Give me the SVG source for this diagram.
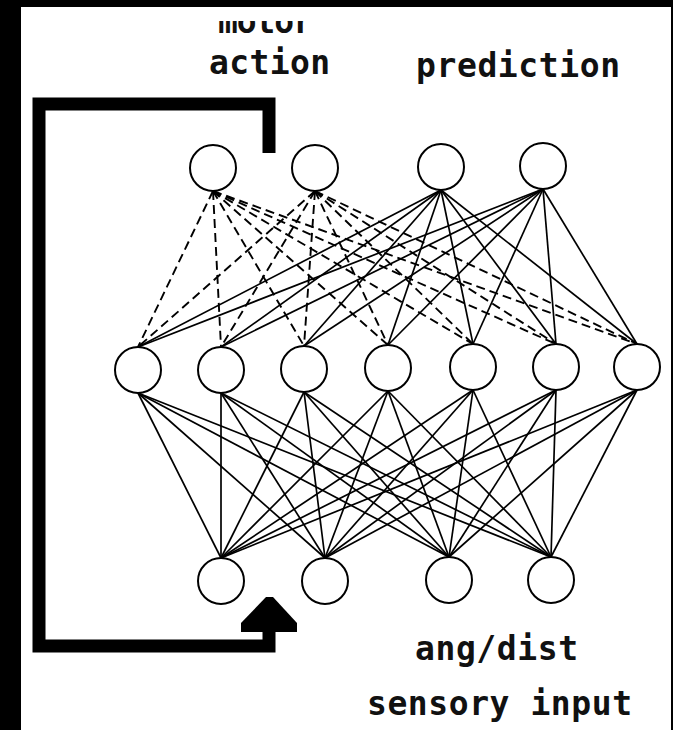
<svg xmlns="http://www.w3.org/2000/svg" width="673" height="730" viewBox="0 0 673 730">
  <defs>
    <style>
      .lbl { font-family: "DejaVu Sans Mono", "Liberation Mono", monospace; font-weight: bold; font-size: 33px; fill: #111; }
      .node { fill: #fff; stroke: #000; stroke-width: 2; }
      .solid { stroke: #000; stroke-width: 1.7; fill: none; }
      .dash { stroke: #000; stroke-width: 1.9; fill: none; stroke-dasharray: 9 5; }
      .loop { stroke: #000; stroke-width: 13; fill: none; stroke-linejoin: miter; stroke-linecap: butt; }
    </style>
    <clipPath id="motorClip">
      <rect x="150" y="21" width="250" height="30"/>
    </clipPath>
  </defs>

  <!-- frame -->
  <rect x="0" y="0" width="673" height="730" fill="#000"/>
  <rect x="21" y="7" width="650" height="723" fill="#fff"/>

  <!-- labels -->
  <g id="labels">
    <text class="lbl" x="218" y="33" textLength="95" lengthAdjust="spacing" clip-path="url(#motorClip)">motor</text>
    <text class="lbl" x="209" y="74" textLength="121" lengthAdjust="spacing">action</text>
    <text class="lbl" x="416" y="77" textLength="204" lengthAdjust="spacing">prediction</text>
    <text class="lbl" x="415" y="660" textLength="163" lengthAdjust="spacing">ang/dist</text>
    <text class="lbl" x="367" y="715" textLength="265" lengthAdjust="spacing">sensory input</text>
  </g>

  <!-- feedback loop -->
  <g id="feedback">
    <path class="loop" d="M 269 153 V 104 H 39 V 646 H 269 V 628"/>
    <polygon points="241,632 241,623 266,597 273,597 297,623 297,632" fill="#000"/>
  </g>

  <!-- connectors -->
  <g id="connectors">
    <!-- motor nodes (dashed) to hidden -->
    <g class="dash">
      <line x1="213" y1="191" x2="138" y2="347"/>
      <line x1="213" y1="191" x2="221" y2="347"/>
      <line x1="213" y1="191" x2="304" y2="346"/>
      <line x1="213" y1="191" x2="388" y2="345"/>
      <line x1="213" y1="191" x2="473" y2="344"/>
      <line x1="213" y1="191" x2="556" y2="344"/>
      <line x1="213" y1="191" x2="637" y2="344"/>
      <line x1="315" y1="191" x2="138" y2="347"/>
      <line x1="315" y1="191" x2="221" y2="347"/>
      <line x1="315" y1="191" x2="304" y2="346"/>
      <line x1="315" y1="191" x2="388" y2="345"/>
      <line x1="315" y1="191" x2="473" y2="344"/>
      <line x1="315" y1="191" x2="556" y2="344"/>
      <line x1="315" y1="191" x2="637" y2="344"/>
    </g>
    <!-- prediction nodes (solid) to hidden -->
    <g class="solid">
      <line x1="441" y1="190" x2="138" y2="347"/>
      <line x1="441" y1="190" x2="221" y2="347"/>
      <line x1="441" y1="190" x2="304" y2="346"/>
      <line x1="441" y1="190" x2="388" y2="345"/>
      <line x1="441" y1="190" x2="473" y2="344"/>
      <line x1="441" y1="190" x2="556" y2="344"/>
      <line x1="441" y1="190" x2="637" y2="344"/>
      <line x1="543" y1="189" x2="138" y2="347"/>
      <line x1="543" y1="189" x2="221" y2="347"/>
      <line x1="543" y1="189" x2="304" y2="346"/>
      <line x1="543" y1="189" x2="388" y2="345"/>
      <line x1="543" y1="189" x2="473" y2="344"/>
      <line x1="543" y1="189" x2="556" y2="344"/>
      <line x1="543" y1="189" x2="637" y2="344"/>
    </g>
    <!-- hidden to input (solid) -->
    <g class="solid">
      <line x1="138" y1="393" x2="221" y2="558"/>
      <line x1="138" y1="393" x2="325" y2="558"/>
      <line x1="138" y1="393" x2="449" y2="557"/>
      <line x1="138" y1="393" x2="551" y2="557"/>
      <line x1="221" y1="393" x2="221" y2="558"/>
      <line x1="221" y1="393" x2="325" y2="558"/>
      <line x1="221" y1="393" x2="449" y2="557"/>
      <line x1="221" y1="393" x2="551" y2="557"/>
      <line x1="304" y1="392" x2="221" y2="558"/>
      <line x1="304" y1="392" x2="325" y2="558"/>
      <line x1="304" y1="392" x2="449" y2="557"/>
      <line x1="304" y1="392" x2="551" y2="557"/>
      <line x1="388" y1="391" x2="221" y2="558"/>
      <line x1="388" y1="391" x2="325" y2="558"/>
      <line x1="388" y1="391" x2="449" y2="557"/>
      <line x1="388" y1="391" x2="551" y2="557"/>
      <line x1="473" y1="390" x2="221" y2="558"/>
      <line x1="473" y1="390" x2="325" y2="558"/>
      <line x1="473" y1="390" x2="449" y2="557"/>
      <line x1="473" y1="390" x2="551" y2="557"/>
      <line x1="556" y1="390" x2="221" y2="558"/>
      <line x1="556" y1="390" x2="325" y2="558"/>
      <line x1="556" y1="390" x2="449" y2="557"/>
      <line x1="556" y1="390" x2="551" y2="557"/>
      <line x1="637" y1="390" x2="221" y2="558"/>
      <line x1="637" y1="390" x2="325" y2="558"/>
      <line x1="637" y1="390" x2="449" y2="557"/>
      <line x1="637" y1="390" x2="551" y2="557"/>
    </g>
  </g>

  <!-- output layer -->
  <g id="out1"><circle class="node" cx="213" cy="168" r="23"/></g>
  <g id="out2"><circle class="node" cx="315" cy="168" r="23"/></g>
  <g id="out3"><circle class="node" cx="441" cy="167" r="23"/></g>
  <g id="out4"><circle class="node" cx="543" cy="166" r="23"/></g>

  <!-- hidden layer -->
  <g id="hid1"><circle class="node" cx="138" cy="370" r="23"/></g>
  <g id="hid2"><circle class="node" cx="221" cy="370" r="23"/></g>
  <g id="hid3"><circle class="node" cx="304" cy="369" r="23"/></g>
  <g id="hid4"><circle class="node" cx="388" cy="368" r="23"/></g>
  <g id="hid5"><circle class="node" cx="473" cy="367" r="23"/></g>
  <g id="hid6"><circle class="node" cx="556" cy="367" r="23"/></g>
  <g id="hid7"><circle class="node" cx="637" cy="367" r="23"/></g>

  <!-- input layer -->
  <g id="in1"><circle class="node" cx="221" cy="581" r="23"/></g>
  <g id="in2"><circle class="node" cx="325" cy="581" r="23"/></g>
  <g id="in3"><circle class="node" cx="449" cy="580" r="23"/></g>
  <g id="in4"><circle class="node" cx="551" cy="580" r="23"/></g>
</svg>
